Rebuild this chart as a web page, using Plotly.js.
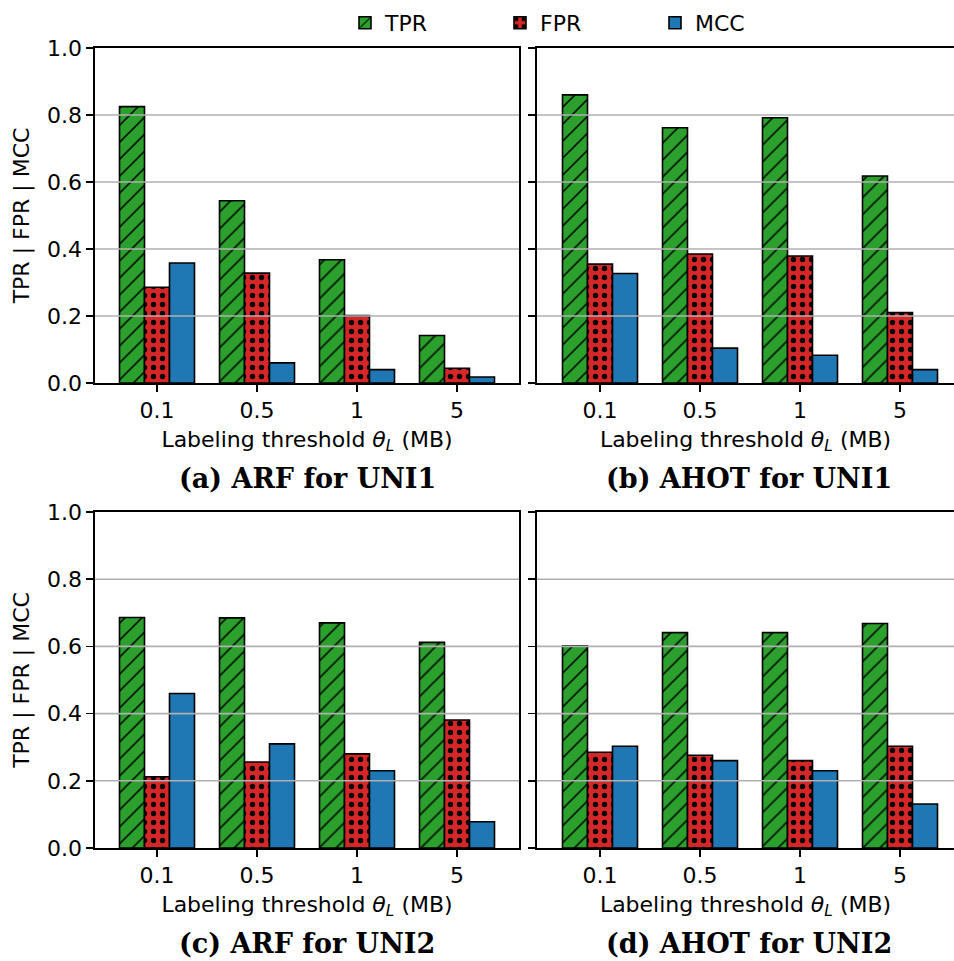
<!DOCTYPE html>
<html>
<head>
<meta charset="utf-8">
<script src="https://cdn.plot.ly/plotly-3.0.1.min.js"></script>
<style>html,body{margin:0;padding:0;background:#fff;}#chart{width:954px;height:961px;}</style>
</head>
<body>
<div id="chart"></div>
<script>
// ---- data ----
const categories = ['0.1', '0.5', '1', '5'];
const seriesNames = ['TPR', 'FPR', 'MCC'];

const arfUni1Tpr = [0.825, 0.544, 0.368, 0.142];
const arfUni1Fpr = [0.286, 0.328, 0.201, 0.044];
const arfUni1Mcc = [0.358, 0.060, 0.040, 0.018];

const ahotUni1Tpr = [0.860, 0.762, 0.792, 0.618];
const ahotUni1Fpr = [0.355, 0.385, 0.379, 0.210];
const ahotUni1Mcc = [0.327, 0.104, 0.083, 0.040];

const arfUni2Tpr = [0.686, 0.685, 0.670, 0.612];
const arfUni2Fpr = [0.212, 0.256, 0.280, 0.381];
const arfUni2Mcc = [0.460, 0.310, 0.230, 0.078];

const ahotUni2Tpr = [0.602, 0.641, 0.641, 0.668];
const ahotUni2Fpr = [0.285, 0.276, 0.260, 0.303];
const ahotUni2Mcc = [0.303, 0.260, 0.230, 0.131];

const panelCaptions = ['(a) ARF for UNI1', '(b) AHOT for UNI1', '(c) ARF for UNI2', '(d) AHOT for UNI2'];
const xTitle = 'Labeling threshold <i>θ</i><sub><i>L</i></sub> (MB)';
const yTitle = 'TPR | FPR | MCC';
const yTickVals = [0, 0.2, 0.4, 0.6, 0.8, 1.0];
const gridVals = [0.2, 0.4, 0.6, 0.8];

// ---- styling ----
const colors = ['#2ca02c', '#d62728', '#1f77b4'];
const patterns = [
  {shape: '/', fgcolor: '#000000', bgcolor: '#2ca02c', size: 12, solidity: 0.13, fillmode: 'replace'},
  {shape: '.', fgcolor: '#000000', bgcolor: '#d62728', size: 9, solidity: 0.28, fillmode: 'replace'},
  {shape: '', fgcolor: '#000000', bgcolor: '#1f77b4', size: 8, solidity: 0.2, fillmode: 'replace'}
];

const panels = [
  {vals: [arfUni1Tpr, arfUni1Fpr, arfUni1Mcc], xa: 'x', ya: 'y'},
  {vals: [ahotUni1Tpr, ahotUni1Fpr, ahotUni1Mcc], xa: 'x2', ya: 'y2'},
  {vals: [arfUni2Tpr, arfUni2Fpr, arfUni2Mcc], xa: 'x3', ya: 'y3'},
  {vals: [ahotUni2Tpr, ahotUni2Fpr, ahotUni2Mcc], xa: 'x4', ya: 'y4'}
];

const traces = [];
panels.forEach((p, pi) => {
  p.vals.forEach((v, si) => {
    traces.push({
      type: 'bar',
      name: seriesNames[si],
      x: categories,
      y: v,
      xaxis: p.xa,
      yaxis: p.ya,
      legendgroup: seriesNames[si],
      showlegend: pi === 0,
      marker: {
        color: colors[si],
        line: {color: '#000000', width: 1.6},
        pattern: patterns[si]
      },
      hoverinfo: 'x+y+name'
    });
  });
});

const W = 954, H = 961;
const colPx = [[95, 519], [537, 954]];
const rowPx = [[48, 383], [512, 848]];
const xd = c => [colPx[c][0] / W, colPx[c][1] / W];
const yd = r => [1 - rowPx[r][1] / H, 1 - rowPx[r][0] / H];

const tickFont = {family: 'DejaVu Sans', size: 22, color: '#000'};
const titleFont = {family: 'DejaVu Sans', size: 22, color: '#000'};

function xAxis(c, r, range) {
  return {
    domain: xd(c),
    anchor: (r === 0 ? (c === 0 ? 'y' : 'y2') : (c === 0 ? 'y3' : 'y4')),
    type: 'category',
    range: range,
    showline: true, linecolor: '#000', linewidth: 1.6, mirror: true,
    ticks: 'outside', ticklen: 7, tickwidth: 1.6, tickcolor: '#000',
    tickfont: tickFont,
    showgrid: false, zeroline: false,
    title: {text: xTitle, font: titleFont, standoff: 9},
    fixedrange: true
  };
}
function yAxis(c, r) {
  const ax = {
    domain: yd(r),
    anchor: (r === 0 ? (c === 0 ? 'x' : 'x2') : (c === 0 ? 'x3' : 'x4')),
    range: [0, 1],
    tickvals: yTickVals,
    tickformat: '.1f',
    showticklabels: c === 0,
    showline: true, linecolor: '#000', linewidth: 1.6, mirror: c === 0,
    ticks: 'outside', ticklen: 7, tickwidth: 1.6, tickcolor: '#000',
    tickfont: tickFont,
    showgrid: false, zeroline: false,
    fixedrange: true
  };
  if (c === 0) ax.title = {text: yTitle, font: titleFont, standoff: 11};
  return ax;
}

const leftRange = [-0.62, 3.62];
const rightRange = [-0.63, 3.54];

const shapes = [];
['y', 'y2', 'y3', 'y4'].forEach((ya, i) => {
  const xa = ['x', 'x2', 'x3', 'x4'][i];
  gridVals.forEach(g => {
    shapes.push({
      type: 'line', layer: 'above',
      xref: xa + ' domain', x0: 0, x1: 1,
      yref: ya, y0: g, y1: g,
      line: {color: '#b0b0b0', width: 1.6}
    });
  });
});

const annotations = panelCaptions.map((t, i) => {
  const c = i % 2, r = Math.floor(i / 2);
  const cx = c === 0 ? 307 : 749;
  const cy = r === 0 ? 478 : 943;
  return {
    text: '<b>' + t + '</b>',
    xref: 'paper', yref: 'paper',
    x: cx / W, y: 1 - cy / H,
    xanchor: 'center', yanchor: 'middle',
    showarrow: false,
    font: {family: 'DejaVu Serif', size: 27, color: '#000'}
  };
});

const layout = {
  width: W, height: H,
  margin: {l: 0, r: 0, t: 0, b: 0},
  paper_bgcolor: '#fff', plot_bgcolor: '#fff',
  barmode: 'group', bargap: 0.25, bargroupgap: 0,
  font: {family: 'DejaVu Sans', color: '#000'},
  showlegend: true,
  legend: {
    orientation: 'h',
    x: 345 / W, xanchor: 'left',
    y: 1 - 2 / H, yanchor: 'top',
    font: {family: 'DejaVu Sans', size: 22, color: '#000'},
    entrywidth: 110, entrywidthmode: 'pixels',
    bgcolor: 'rgba(0,0,0,0)',
    traceorder: 'normal'
  },
  xaxis: xAxis(0, 0, leftRange),
  yaxis: yAxis(0, 0),
  xaxis2: xAxis(1, 0, rightRange),
  yaxis2: yAxis(1, 0),
  xaxis3: xAxis(0, 1, leftRange),
  yaxis3: yAxis(0, 1),
  xaxis4: xAxis(1, 1, rightRange),
  yaxis4: yAxis(1, 1),
  shapes: shapes,
  annotations: annotations
};

Plotly.newPlot('chart', traces, layout, {displayModeBar: false, staticPlot: true});
</script>
</body>
</html>
